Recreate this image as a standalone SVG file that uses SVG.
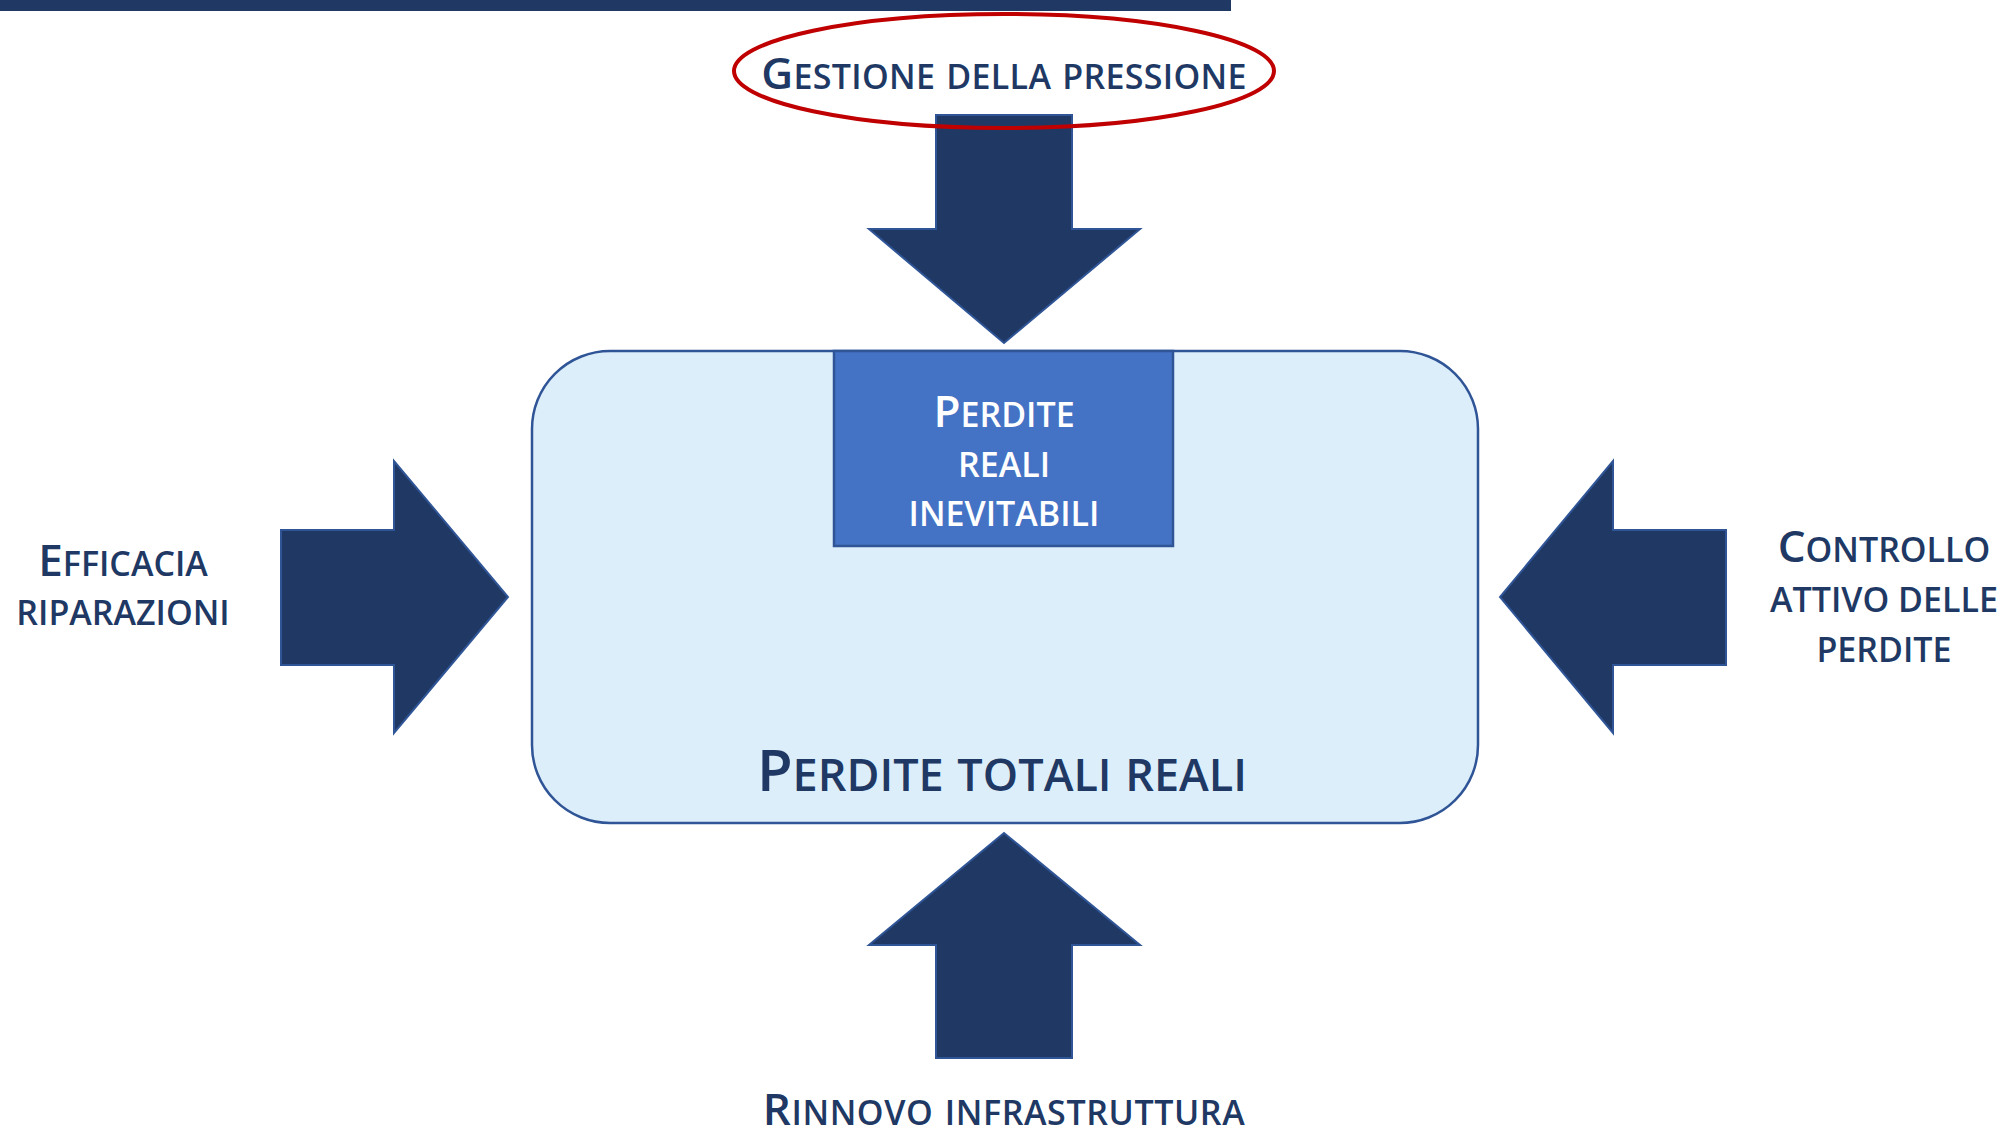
<svg xmlns="http://www.w3.org/2000/svg" width="2006" height="1133" viewBox="0 0 2006 1133">
<style>
.t{font-family:"Open Sans","Noto Sans",sans-serif;font-weight:600;fill:#203864;text-anchor:middle}
.w{fill:#ffffff}
.big{font-size:44px}
.sm{font-size:34px}
.arrow{fill:#203864;stroke:#2F5597;stroke-width:2;stroke-linejoin:miter}
</style>
<rect x="0" y="0" width="1231" height="11" fill="#203864"/>
<g id="main-box">
<rect x="532" y="351" width="946" height="472" rx="78" ry="78" fill="#DDEEFB" stroke="#2F5597" stroke-width="2.5"/>
<text class="t" x="1002" y="791" word-spacing="2"><tspan font-size="58">P</tspan><tspan font-size="45">ERDITE TOTALI REALI</tspan></text>
</g>
<g id="inner-box">
<rect x="834" y="351" width="339" height="195" fill="#4472C4" stroke="#2F5597" stroke-width="2.5"/>
<text class="t w" x="1004" y="427"><tspan class="big">P</tspan><tspan class="sm">ERDITE</tspan></text>
<text class="t w sm" x="1004" y="477">REALI</text>
<text class="t w sm" x="1004" y="526">INEVITABILI</text>
</g>
<g id="connectors">
<polygon class="arrow" points="936,115 1072,115 1072,229 1140,229 1004,343 869,229 936,229"/>
<polygon class="arrow" points="281,530 394,530 394,461 508,597 394,733 394,665 281,665"/>
<polygon class="arrow" points="1726,530 1613,530 1613,461 1500,597 1613,733 1613,665 1726,665"/>
<polygon class="arrow" points="936,1058 1072,1058 1072,945 1140,945 1004,833 869,945 936,945"/>
</g>
<g id="gestione-pressione">
<ellipse cx="1004" cy="71" rx="270" ry="57" fill="none" stroke="#C00000" stroke-width="4"/>
<text class="t" x="1004" y="89" letter-spacing="0.3" word-spacing="2"><tspan class="big">G</tspan><tspan class="sm">ESTIONE DELLA PRESSIONE</tspan></text>
</g>
<g id="efficacia-riparazioni">
<text class="t" x="123" y="576"><tspan class="big">E</tspan><tspan class="sm">FFICACIA</tspan></text>
<text class="t sm" x="123" y="625">RIPARAZIONI</text>
</g>
<g id="controllo-attivo">
<text class="t" x="1884" y="562"><tspan class="big">C</tspan><tspan class="sm">ONTROLLO</tspan></text>
<text class="t sm" x="1884" y="612">ATTIVO DELLE</text>
<text class="t sm" x="1884" y="662">PERDITE</text>
</g>
<g id="rinnovo-infrastruttura">
<text class="t" x="1004" y="1125" letter-spacing="0.6" word-spacing="2"><tspan class="big">R</tspan><tspan class="sm">INNOVO INFRASTRUTTURA</tspan></text>
</g>
</svg>
